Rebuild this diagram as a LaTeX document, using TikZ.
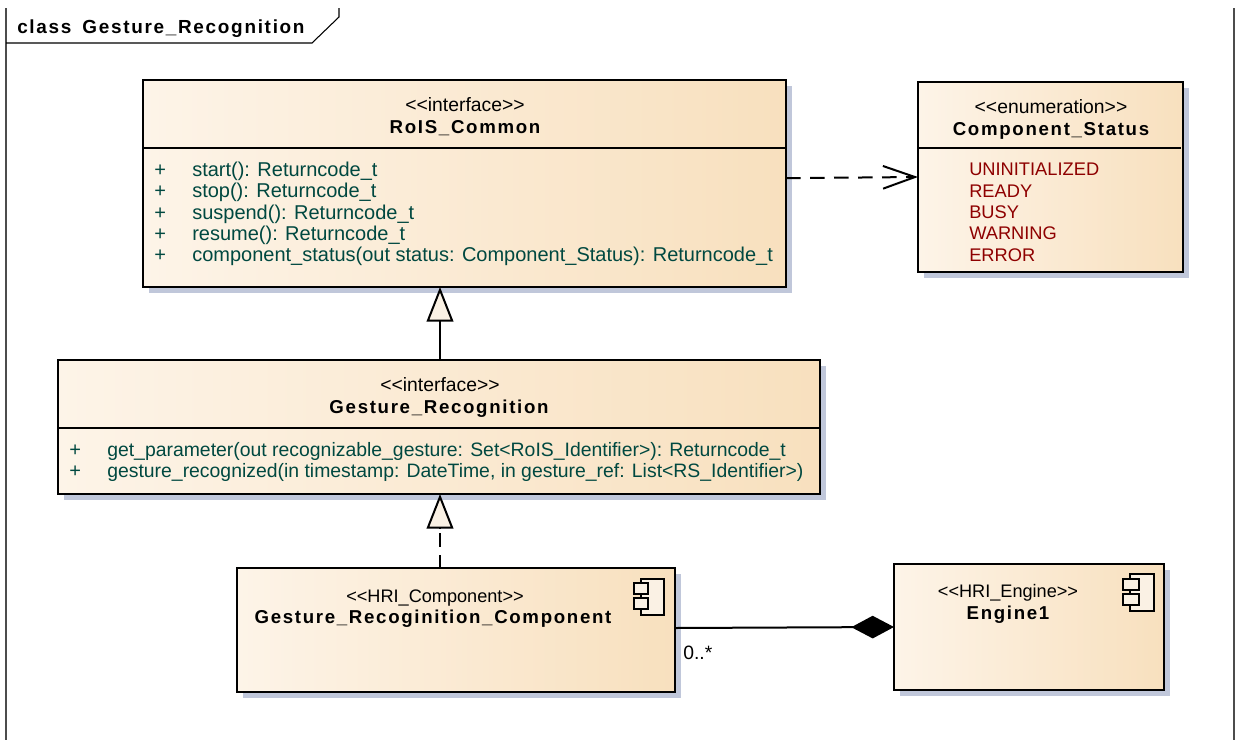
\documentclass[tikz,border=0pt]{standalone}
\usepackage{fontspec}
\usetikzlibrary{arrows.meta,shadows}
\setmainfont{Liberation Sans}
\newfontfamily\namefont[LetterSpace=9]{Liberation Sans Bold}
\newcommand{\stereoname}[1]{<{}<#1>{}>}
\definecolor{boxleft}{HTML}{FDF4E8}
\definecolor{boxright}{HTML}{F8E0BE}
\definecolor{shadowblue}{HTML}{C0C7DA}
\definecolor{cream}{HTML}{FAF1E4}
\definecolor{opercolor}{HTML}{004840}
\definecolor{enumcolor}{HTML}{8E0000}
\tikzset{
  umlbox/.style={draw=black, line width=1.5pt, left color=boxleft, right color=boxright, shape=rectangle, inner sep=0pt, outer sep=0pt,
    general shadow={fill=shadowblue, shadow xshift=4.5pt, shadow yshift=-4.5pt}},
  sepline/.style={line width=1.2pt},
  stereotext/.style={font=\fontsize{14.5pt}{15pt}\selectfont, text height=13pt, text depth=3pt, inner sep=0pt},
  smallstereo/.style={stereotext, font=\fontsize{13.6pt}{15pt}\selectfont},
  nametext/.style={font=\namefont\fontsize{14pt}{15pt}\selectfont, text height=13pt, text depth=3pt, inner sep=0pt},
  opertext/.style={font=\fontsize{15pt}{15pt}\selectfont, text=opercolor, anchor=west, text height=13pt, text depth=3pt, inner sep=0pt},
  smalloper/.style={opertext, font=\fontsize{14.55pt}{15pt}\selectfont},
  enumtext/.style={font=\fontsize{13.7pt}{15pt}\selectfont, text=enumcolor, anchor=west, text height=13pt, text depth=3pt, inner sep=0pt},
  icon/.style={draw=black, line width=1.3pt, fill=cream},
  dependency/.style={line width=1.5pt, dash pattern=on 11pt off 7pt, -{Straight Barb[length=24pt, width=17pt, line width=1.5pt]}},
  realize/.style={line width=1.5pt, dash pattern=on 10pt off 6pt},
  generalize/.style={line width=1.5pt, -{Triangle[open, length=26pt, width=20pt, fill=cream]}},
  composition/.style={line width=1.5pt, -{Diamond[length=32pt, width=17pt, fill=black]}},
}
\begin{document}
\begin{tikzpicture}[x=0.75pt, y=-0.75pt]
  \useasboundingbox (0,0) rectangle (1235,740);

  % frame
  \draw[line width=0.8pt, draw=black!70] (6,8) -- (6,740);  % left border
  \draw[line width=0.8pt, draw=black!70] (1234,8) -- (1234,740);  % right border
  \draw[line width=0.8pt] (6,43) -- (312,43) -- (339,17) -- (339,8);  % name tab
  \node[nametext, anchor=west, font=\namefont\fontsize{14.2pt}{15pt}\selectfont] (tablabel) at (17,27) {class\hspace{3pt} Gesture\_Recognition};  % tab label

  % first interface
  \node[umlbox, minimum width=482.25pt, minimum height=155.25pt] (common) at (464.5,183.5) {};  % box
  \draw[sepline] (143,148) -- (786,148);  % compartment line
  \node[stereotext] (commonstereo) at (465,105) {\stereoname{interface}};  % stereotype
  \node[nametext] (commonname) at (465,127) {RoIS\_Common};  % class name
  \node[opertext] (plusa) at (154,170) {+};
  \node[opertext] (starta) at (192,170) {start(): Returncode\_t};
  \node[opertext] (plusb) at (154,191) {+};
  \node[opertext] (stopa) at (192,191) {stop(): Returncode\_t};
  \node[opertext] (plusc) at (154,212.5) {+};
  \node[opertext] (suspenda) at (192,212.5) {suspend(): Returncode\_t};
  \node[opertext] (plusd) at (154,234) {+};
  \node[opertext] (resumea) at (192,234) {resume(): Returncode\_t};
  \node[opertext] (pluse) at (154,255) {+};
  \node[opertext] (statusa) at (192,255) {component\_status(out status: Component\_Status): Returncode\_t};

  % enumeration
  \node[umlbox, minimum width=198.75pt, minimum height=142.5pt] (status) at (1050.5,177) {};  % box
  \draw[sepline] (918,148) -- (1181,148);  % compartment line
  \node[stereotext] (statusstereo) at (1051,107) {\stereoname{enumeration}};  % stereotype
  \node[nametext] (statusname) at (1051,129) {Component\_Status};  % class name
  \node[enumtext] (uninit) at (969,169) {UNINITIALIZED};
  \node[enumtext] (ready) at (969,191) {READY};
  \node[enumtext] (busy) at (969,212) {BUSY};
  \node[enumtext] (warning) at (969,233) {WARNING};
  \node[enumtext] (error) at (969,255) {ERROR};

  % second interface
  \node[umlbox, minimum width=571.5pt, minimum height=100.5pt] (gesture) at (439,427) {};  % box
  \draw[sepline] (58,428) -- (820,428);  % compartment line
  \node[stereotext] (gesturestereo) at (440,385) {\stereoname{interface}};  % stereotype
  \node[nametext] (gesturename) at (439,407) {Gesture\_Recognition};  % class name
  \node[opertext] (plusf) at (69,450) {+};
  \node[smalloper] (getparam) at (107,450) {get\_parameter(out recognizable\_gesture: Set<RoIS\_Identifier>): Returncode\_t};
  \node[opertext] (plusg) at (69,471) {+};
  \node[smalloper] (recognized) at (107,471) {gesture\_recognized(in timestamp: DateTime, in gesture\_ref: List<RS\_Identifier>)};

  % component
  \node[umlbox, minimum width=328.5pt, minimum height=93pt] (component) at (456,630) {};  % box
  \node[smallstereo] (compstereo) at (435,596) {\stereoname{HRI\_Component}};  % stereotype
  \node[nametext] (compname) at (433,617) {Gesture\_Recoginition\_Component};  % class name
  \draw[icon] (641,579) rectangle (664,615);  % component icon
  \draw[icon] (634,583) rectangle (648,594);
  \draw[icon] (634,598) rectangle (648,609);

  % engine
  \node[umlbox, minimum width=202.5pt, minimum height=94.5pt] (engine) at (1029,627) {};  % box
  \node[smallstereo] (enginestereo) at (1008,591) {\stereoname{HRI\_Engine}};  % stereotype
  \node[nametext] (enginename) at (1008,613) {Engine1};  % class name
  \draw[icon] (1130,574) rectangle (1154,611);  % component icon
  \draw[icon] (1123,579) rectangle (1139,590);
  \draw[icon] (1123,594) rectangle (1139,605);

  % connectors
  \draw[dependency] ([yshift=4pt]common.east) -- (status.west);  % dependency arrow
  \draw[generalize] ([xshift=.75pt]gesture.north) -- ([xshift=.75pt]gesture.north |- common.south);  % generalization arrow
  \draw[realize] ([xshift=.75pt]gesture.south |- component.north) -- ([xshift=.75pt, yshift=-25pt]gesture.south);  % dashed stem
  \draw[generalize] ([xshift=.75pt, yshift=-25.5pt]gesture.south) -- ([xshift=.75pt]gesture.south);  % realization head
  \draw[composition] ([yshift=1.5pt]component.east) -- (engine.west);  % composition line
  \node[stereotext, anchor=west] (multiplicity) at (683,653) {0..*};  % multiplicity label
\end{tikzpicture}
\end{document}
